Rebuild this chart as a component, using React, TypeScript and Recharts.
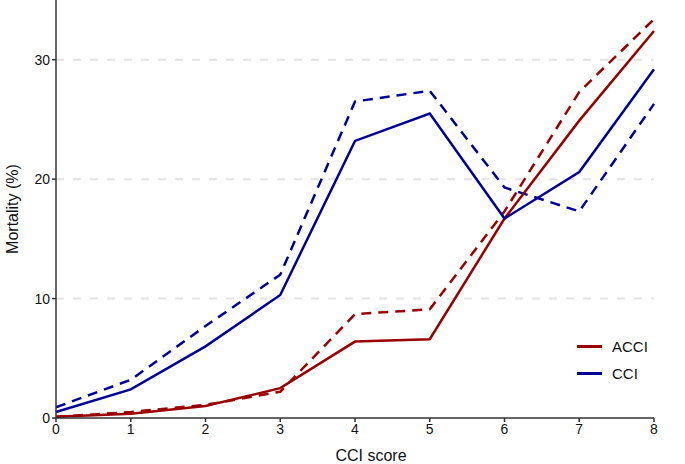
import { CartesianGrid, Line, LineChart, XAxis, YAxis } from 'recharts'

const scores = [0, 1, 2, 3, 4, 5, 6, 7, 8]
const acciSolid = [0.1, 0.35, 1.0, 2.5, 6.4, 6.6, 16.7, 24.9, 32.4]
const acciDashed = [0.1, 0.5, 1.1, 2.2, 8.7, 9.1, 17.3, 27.3, 33.4]
const cciSolid = [0.5, 2.4, 6.0, 10.3, 23.2, 25.5, 16.7, 20.6, 29.2]
const cciDashed = [0.9, 3.2, 7.7, 12.0, 26.5, 27.4, 19.3, 17.3, 26.3]
const yTicks = [0, 10, 20, 30]
const gridValues = [10, 20, 30]

const RED = '#990000'
const BLUE = '#000099'
const FONT = 'Liberation Sans, Arial, Helvetica, sans-serif'

const data = scores.map((s, i) => ({
  score: s,
  acci: acciSolid[i],
  acciUpper: acciDashed[i],
  cci: cciSolid[i],
  cciUpper: cciDashed[i],
}))

const legendItems = [
  { name: 'ACCI', color: RED },
  { name: 'CCI', color: BLUE },
]

// legend is plain html on top of the chart so it doesn't eat plot space
function LegendBox() {
  return (
    <div
      style={{
        position: 'absolute',
        left: 577,
        top: 333,
        fontFamily: FONT,
        fontSize: 15,
        color: '#111',
      }}
    >
      {legendItems.map((item) => (
        <div key={item.name} style={{ display: 'flex', alignItems: 'center', height: 27 }}>
          <div style={{ width: 25, height: 3, background: item.color, marginRight: 10 }} />
          <span>{item.name}</span>
        </div>
      ))}
    </div>
  )
}

export default function App() {
  return (
    <div style={{ position: 'absolute', left: 0, top: 0, background: '#fff' }}>
      <LineChart
        width={685}
        height={464}
        data={data}
        margin={{ top: 0, right: 31, left: 0, bottom: 0 }}
      >
        <CartesianGrid
          horizontal
          vertical={false}
          horizontalValues={gridValues}
          stroke="#e4e4e4"
          strokeWidth={2}
          strokeDasharray="8 9"
        />
        <XAxis
          dataKey="score"
          type="number"
          domain={[0, 8]}
          ticks={scores}
          height={46}
          stroke="#333"
          strokeWidth={1.5}
          tickSize={4}
          tick={{ fill: '#111', fontSize: 14, fontFamily: FONT }}
          label={{
            value: 'CCI score',
            position: 'insideBottom',
            offset: 3,
            dx: 16,
            fill: '#111',
            fontSize: 16,
            fontFamily: FONT,
          }}
        />
        <YAxis
          type="number"
          domain={[0, 35]}
          ticks={yTicks}
          width={56}
          stroke="#333"
          strokeWidth={1.5}
          tickSize={4}
          tick={{ fill: '#111', fontSize: 14, fontFamily: FONT }}
          label={{
            value: 'Mortality (%)',
            angle: -90,
            position: 'insideLeft',
            offset: 12,
            style: { textAnchor: 'middle' },
            fill: '#111',
            fontSize: 16,
            fontFamily: FONT,
          }}
        />
        <Line
          dataKey="acciUpper"
          stroke={RED}
          strokeWidth={2.5}
          strokeDasharray="10 7"
          dot={false}
          isAnimationActive={false}
        />
        <Line
          dataKey="cciUpper"
          stroke={BLUE}
          strokeWidth={2.5}
          strokeDasharray="10 7"
          dot={false}
          isAnimationActive={false}
        />
        <Line
          dataKey="acci"
          stroke={RED}
          strokeWidth={2.5}
          dot={false}
          isAnimationActive={false}
        />
        <Line
          dataKey="cci"
          stroke={BLUE}
          strokeWidth={2.5}
          dot={false}
          isAnimationActive={false}
        />
      </LineChart>
      <LegendBox />
    </div>
  )
}
